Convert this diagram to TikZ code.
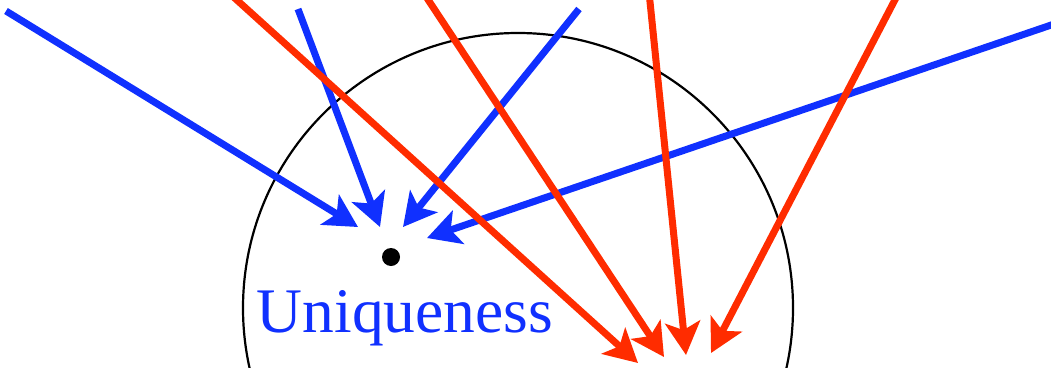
\documentclass[tikz,border=0pt]{standalone}
\usepackage{fontspec}
\setmainfont{Liberation Serif}
\usetikzlibrary{arrows.meta}
\definecolor{ublue}{RGB}{16,48,255}
\definecolor{ered}{RGB}{255,44,0}
\begin{document}
\begin{tikzpicture}[x=1pt,y=-1pt,
    arr/.style={line width=7pt,-{Stealth[length=33pt,width=35pt,inset=8pt]}}]
        \useasboundingbox (0,0) rectangle (1051,367);
        \path
        (518,308) coordinate (O)
        (391,257) coordinate (P)
        (6,11) coordinate (b1) (358,227) coordinate (u1)
        (298,9) coordinate (b2) (380,227) coordinate (u2)
        (579,9) coordinate (b3) (403,227) coordinate (u3)
        (1060,22) coordinate (b4) (427,238) coordinate (u4)
        (228,-8) coordinate (r1) (638,363) coordinate (e1)
        (423,-8) coordinate (r2) (664,357) coordinate (e2)
        (649,-8) coordinate (r3) (686,355) coordinate (e3)
        (899,-8) coordinate (r4) (711,353) coordinate (e4)
        ;
        \draw[line width=2.2pt] (O) circle (275pt);
        \fill (P) circle (9pt);
        \node[ublue,anchor=base,font=\fontsize{63.5}{64}\selectfont] (uniq) at (405,332) {Uniqueness};
        \foreach \s/\t in {b1/u1,b2/u2,b3/u3,b4/u4}\draw[arr,ublue] (\s)--(\t);
        \foreach \s/\t in {r1/e1,r2/e2,r3/e3,r4/e4}\draw[arr,ered] (\s)--(\t);
    \end{tikzpicture}
\end{document}
